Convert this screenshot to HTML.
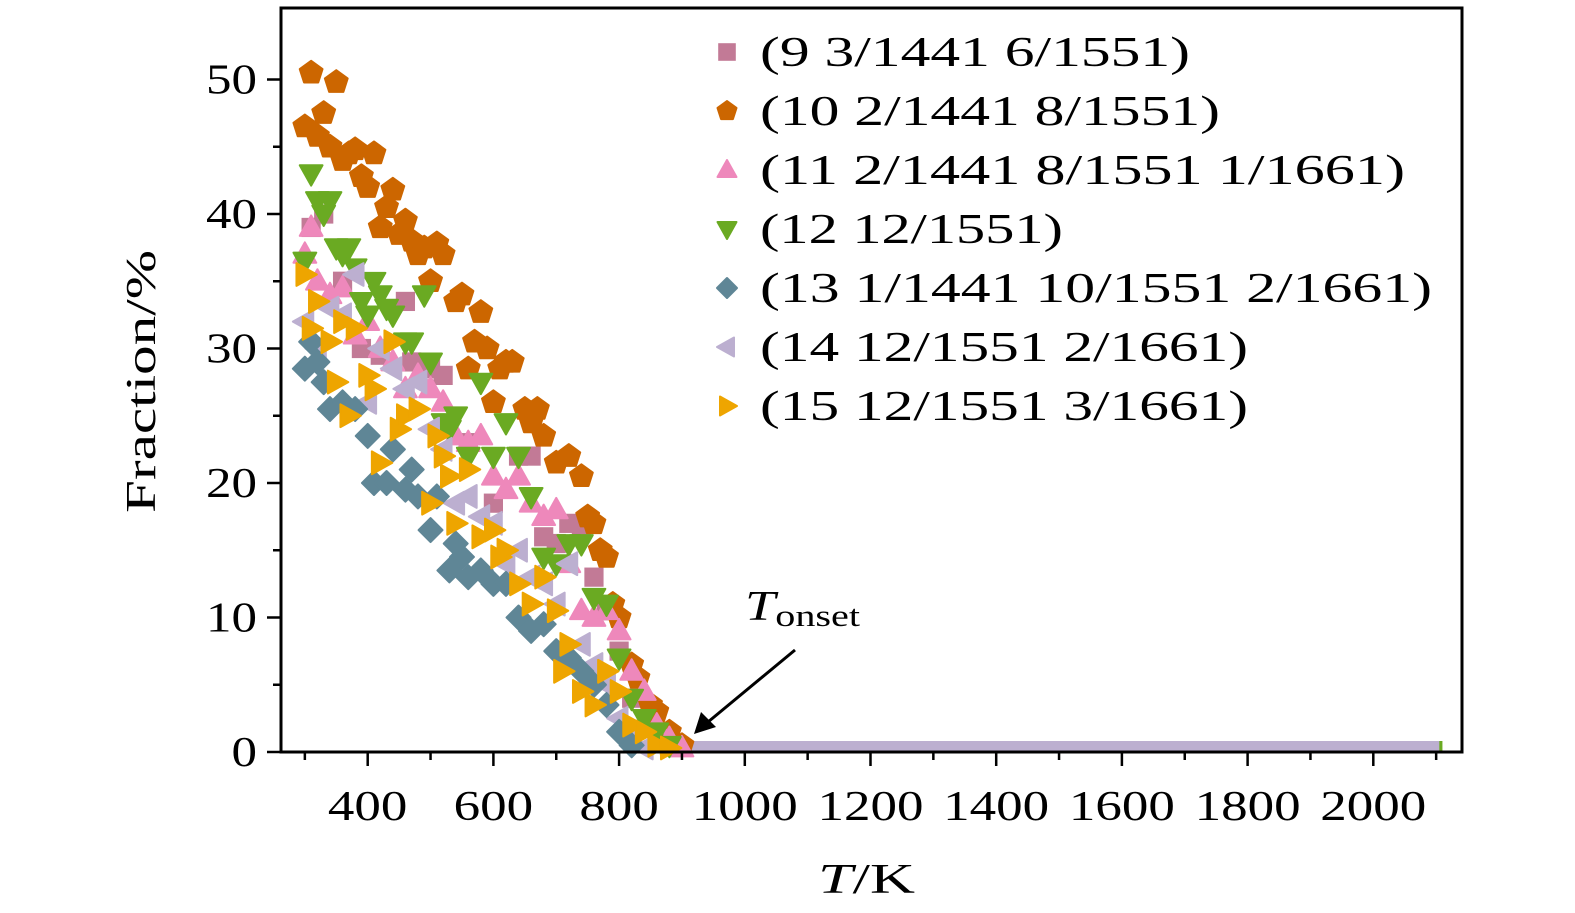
<!DOCTYPE html>
<html><head><meta charset="utf-8"><style>
html,body{margin:0;padding:0;background:#fff;}
svg{display:block;}
text{font-family:"Liberation Serif",serif;fill:#000;}
</style></head><body>
<svg id="chart" width="1575" height="913" viewBox="0 0 1575 913">
<g id="marks"></g>
<g id="axes"></g>
<g id="legend"></g>
<text x="745" y="620" font-size="42" font-style="italic" textLength="115" lengthAdjust="spacingAndGlyphs">T<tspan font-style="normal" font-size="31" dy="6">onset</tspan></text>
<line x1="795" y1="650" x2="708" y2="722" stroke="#000" stroke-width="3"/>
<polygon points="694,734 701,712 716,727" fill="#000"/>
<text x="818" y="893" font-size="42" textLength="97" lengthAdjust="spacingAndGlyphs"><tspan font-style="italic">T</tspan>/K</text>
<text transform="translate(155,513) rotate(-90)" font-size="42" textLength="263" lengthAdjust="spacingAndGlyphs">Fraction/%</text>
</svg>
<script>
const xTicks=[400,600,800,1000,1200,1400,1600,1800,2000];
const yTicks=[0,10,20,30,40,50];
const names=["(9 3/1441 6/1551)","(10 2/1441 8/1551)","(11 2/1441 8/1551 1/1661)","(12 12/1551)","(13 1/1441 10/1551 2/1661)","(14 12/1551 2/1661)","(15 12/1551 3/1661)"];
const colors=["#c27a96","#cc6600","#ee88bb","#6aaa22","#5f8696","#bcafd0","#eea500"];
const shapes=["square","pentagon","up","down","diamond","left","right"];
const tailStart=[900,900,900,880,820,830,840];
const tailEnd=[1000,1000,1000,2110,1000,2105,1010];
const s9T=[310,330,360,390,420,460,470,500,520,560,600,640,660,680,700,720,740,760,780,800,820,860,880];
const s9V=[39,40,35,30,29.5,33.5,29,28.5,28,23,18.5,22,22,16,15.5,17,16.5,13,10.5,7.5,4,1.5,0.5];
const s10T=[300,310,320,330,340,350,360,370,380,390,400,410,420,430,440,450,460,470,480,490,500,510,520,540,550,560,570,580,590,600,610,620,630,650,660,670,680,700,720,740,750,760,770,780,790,800,820,830,850,860,880,900];
const s10V=[46.5,50.5,45.8,47.5,45,49.8,44,44.5,44.8,42.8,42,44.5,39,40.5,41.8,38.5,39.5,38,37,37.5,35,37.8,37,33.5,34,28.5,30.5,32.7,30,26,28.5,29,29,25.5,24.5,25.5,23.5,21.5,22,20.5,17.5,17,15,14.5,11,10,6.5,5.5,3.5,3,1.5,0.5];
const s11T=[300,310,320,340,360,380,400,420,440,460,480,500,520,540,560,580,600,620,640,660,680,700,720,740,760,780,800,820,840,860,880,900];
const s11V=[37,39,35,34,34.5,31,32,30,29,27,28,27,26,23.5,23,23.5,20.5,19.5,20.5,18.5,17.5,18,14,10.5,10,10.5,9,6,4.5,2,1,0.3];
const s12T=[300,310,320,330,340,350,360,370,380,390,400,410,420,430,440,460,470,490,500,520,530,540,560,580,600,620,640,660,680,700,720,740,760,780,800,820,840,860,880];
const s12V=[36.5,43,41,40,41,37.5,37,37.5,36,33.5,32.5,35,34,33,32.5,30.5,30.5,34,29,24.5,24,25,22,27.5,22,24.5,22,19,14.5,14,15.5,15.5,11.5,11,7,4,2.5,1.5,0.5];
const s13T=[300,310,320,330,340,360,380,400,410,430,440,460,470,480,500,510,530,540,550,560,580,600,620,640,660,680,700,720,740,760,780,800,820];
const s13V=[28.5,30.5,29,27.5,25.5,26,25.5,23.5,20,20,22.5,19.5,21,19,16.5,19,13.5,15.5,14.5,13,13.5,12.5,12.5,10,9,9.5,7.5,7,6,5,3.5,1.5,0.5];
const s14T=[300,320,340,360,380,400,420,440,460,480,500,520,540,560,580,600,620,640,660,680,700,720,740,760,780,800,820,840];
const s14V=[32,30,33,32.5,35.5,26,30,28.5,27,27.5,24,22.5,18.5,19,17.5,17,14,15,13,12.5,11,14,8,6.5,5,2.5,1,0.3];
const s15T=[300,310,320,340,350,360,370,380,400,410,420,440,450,460,480,500,510,520,530,540,560,580,600,610,620,640,660,680,700,710,720,740,760,780,800,820,840,860,880];
const s15V=[35.5,31.5,33.5,30.5,27.5,32,25,31.5,28,27,21.5,30.5,24,25,25.5,18.5,23.5,22,20.5,17,21,16,16.5,14.5,15,12.5,11,13,10.5,6,8,4.5,3.5,6,4.5,2,1.5,0.5,0.3];
const seriesT=[s9T,s10T,s11T,s12T,s13T,s14T,s15T];
const seriesV=[s9V,s10V,s11V,s12V,s13V,s14V,s15V];
const legendLen=[430,460,645,303,672,488,488];

const NS="http://www.w3.org/2000/svg";
const L=281,R=1462,T=8,B=752;
function xs(t){return 367.7+(t-400)*125.7/200;}
function ys(v){return B-v*13.45;}
function mk(tag,a,p){const e=document.createElementNS(NS,tag);for(const k in a)e.setAttribute(k,a[k]);p.appendChild(e);return e;}
function shape(sh,cx,cy,r,col,p){
  let pts;
  if(sh==="square"){return mk("rect",{x:cx-r*0.8,y:cy-r*0.8,width:r*1.6,height:r*1.6,fill:col},p);}
  if(sh==="diamond")pts=[[0,-r],[r,0],[0,r],[-r,0]];
  else if(sh==="pentagon"){pts=[[0,-r],[0.95*r,-0.31*r],[0.59*r,0.81*r],[-0.59*r,0.81*r],[-0.95*r,-0.31*r]];}
  else if(sh==="up")pts=[[0,-r],[0.95*r,0.7*r],[-0.95*r,0.7*r]];
  else if(sh==="down")pts=[[0,r],[0.95*r,-0.7*r],[-0.95*r,-0.7*r]];
  else if(sh==="left")pts=[[-r,0],[0.7*r,-0.95*r],[0.7*r,0.95*r]];
  else pts=[[r,0],[-0.7*r,-0.95*r],[-0.7*r,0.95*r]];
  return mk("polygon",{points:pts.map(q=>(cx+q[0])+","+(cy+q[1])).join(" "),fill:col,"stroke":col,"stroke-width":2,"stroke-linejoin":"round"},p);
}
const marks=document.getElementById("marks");
const order=[0,1,2,3,5,4,6];
for(const i of [0,1,2,3,4,6,5]){
  const g=mk("rect",{x:xs(tailStart[i]),y:B-11,width:xs(tailEnd[i])-xs(tailStart[i]),height:11,fill:colors[i]},marks);
  
  
}
for(const i of order){
  const g=mk("g",{},marks);
  
  
  for(let j=0;j<seriesT[i].length;j++){
    const e=shape(shapes[i],xs(seriesT[i][j]),ys(seriesV[i][j]),12,colors[i],g);
    
    
  }
}
const ax=document.getElementById("axes");
const fr=mk("rect",{x:L,y:T,width:R-L,height:B-T,fill:"none",stroke:"#000","stroke-width":3},ax);


for(let t=300;t<=2100;t+=100){
  const major=(t%200===0);
  mk("line",{x1:xs(t),x2:xs(t),y1:B,y2:B+(major?14:8),stroke:"#000","stroke-width":2.5},ax);
}
for(const t of xTicks){
  const s=String(t);
  const e=mk("text",{x:xs(t),y:B+68,"font-size":42,"text-anchor":"middle",textLength:s.length*26.5,lengthAdjust:"spacingAndGlyphs"},ax);
  e.textContent=s;
  
  
}
for(let v=0;v<=50;v+=5){
  mk("line",{x1:L,x2:L-((v%10===0)?14:8),y1:ys(v),y2:ys(v),stroke:"#000","stroke-width":2.5},ax);
}
for(const v of yTicks){
  const s=String(v);
  const e=mk("text",{x:257,y:ys(v)+14,"font-size":42,"text-anchor":"end",textLength:s.length*25.5,lengthAdjust:"spacingAndGlyphs"},ax);
  e.textContent=s;
  
  
}
const lg=document.getElementById("legend");
for(let i=0;i<names.length;i++){
  const y=52+i*59;
  const g=mk("g",{},lg);
  
  
  shape(shapes[i],727,y,shapes[i]==="square"?11:10,colors[i],g);
  const t=mk("text",{x:760,y:y+14,"font-size":42,textLength:legendLen[i],lengthAdjust:"spacingAndGlyphs"},g);
  t.textContent=names[i];
}
</script>
</body></html>
